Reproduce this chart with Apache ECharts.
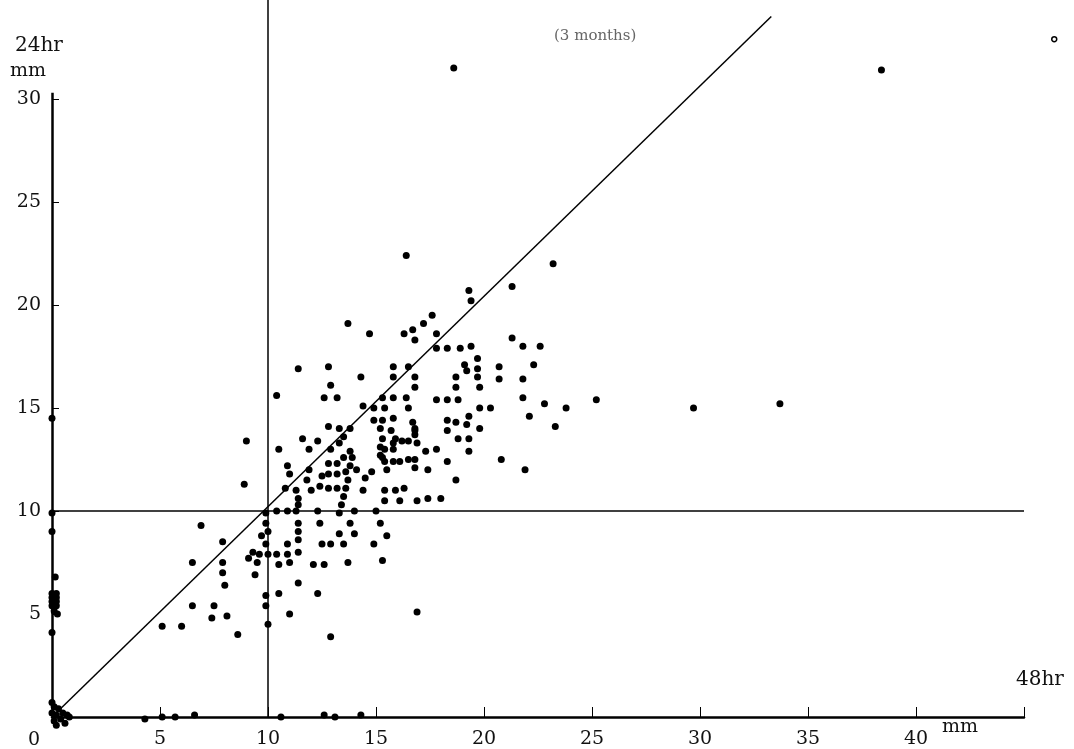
<!DOCTYPE html>
<html>
<head>
<meta charset="utf-8">
<script src="https://cdn.jsdelivr.net/npm/echarts@6/dist/echarts.min.js"></script>
<style>
  html, body { margin: 0; padding: 0; background: #fff; }
  #chart { width: 1074px; height: 749px; }
</style>
</head>
<body>
<div id="chart"></div>
<script>
// 48hr value (x) vs 24hr value (y), mm
var xTicks = [5, 10, 15, 20, 25, 30, 35, 40, 45];
var xLabels = [5, 10, 15, 20, 25, 30, 35, 40];
var yTicks = [5, 10, 15, 20, 25, 30];

// points sitting on / near the two axes
var originPoints = [
  [0, 0.7], [0.1, 0.5], [0.3, 0.4], [0, 0.2], [0.2, 0.1], [0.5, 0.2], [0.7, 0.1],
  [0.1, -0.2], [0.4, -0.1], [0.6, -0.3], [0.2, -0.4], [0.8, 0]
];
var yAxisPoints = [
  [0, 14.5], [0, 9.9], [0, 9.0], [0.15, 6.8], [0, 6.0], [0.2, 6.0], [0, 5.8], [0.2, 5.8],
  [0, 5.6], [0.2, 5.6], [0, 5.4], [0.2, 5.4], [0.1, 5.15], [0.25, 5.0], [0, 4.1]
];
var xAxisPoints = [
  [4.3, -0.1], [5.1, 0], [5.7, 0], [6.6, 0.1], [10.6, 0], [12.6, 0.1], [13.1, 0], [14.3, 0.1]
];

// main cloud
var lowPoints = [
  [9.0, 13.4], [10.5, 13.0], [11.9, 13.0], [12.9, 13.0], [10.9, 12.2], [13.5, 12.6], [11.0, 11.8],
  [8.9, 11.3], [11.9, 12.0], [12.8, 12.3], [13.2, 12.3], [12.5, 11.7], [12.8, 11.8], [13.2, 11.8],
  [13.6, 11.9], [11.8, 11.5], [12.4, 11.2], [10.8, 11.1], [11.3, 11.0], [12.0, 11.0], [12.8, 11.1],
  [13.2, 11.1], [13.6, 11.1], [13.7, 11.5], [11.4, 10.6], [13.5, 10.7], [13.4, 10.3], [10.4, 10.0],
  [10.9, 10.0], [11.3, 10.0], [11.4, 10.3], [12.3, 10.0], [13.3, 9.9], [9.9, 9.9], [6.9, 9.3],
  [9.9, 9.4], [11.4, 9.4], [12.4, 9.4], [13.8, 9.4], [9.7, 8.8], [10.0, 9.0], [11.4, 9.0],
  [13.3, 8.9], [7.9, 8.5], [9.9, 8.4], [10.9, 8.4], [11.4, 8.6], [12.5, 8.4], [12.9, 8.4],
  [13.5, 8.4], [9.3, 8.0], [9.6, 7.9], [10.0, 7.9], [10.4, 7.9], [10.9, 7.9], [11.4, 8.0],
  [9.1, 7.7], [9.5, 7.5], [10.5, 7.4], [11.0, 7.5], [12.1, 7.4], [12.6, 7.4], [13.7, 7.5],
  [6.5, 7.5], [7.9, 7.5], [7.9, 7.0], [9.4, 6.9], [8.0, 6.4], [11.4, 6.5], [9.9, 5.9],
  [10.5, 6.0], [12.3, 6.0], [6.5, 5.4], [7.5, 5.4], [9.9, 5.4], [7.4, 4.8], [8.1, 4.9],
  [11.0, 5.0], [10.0, 4.5], [5.1, 4.4], [6.0, 4.4], [8.6, 4.0], [12.9, 3.9],
  [14.0, 8.9], [15.5, 8.8], [14.9, 8.4], [15.3, 7.6], [16.9, 5.1]
];
var midPoints = [
  [13.7, 19.1], [14.7, 18.6], [16.3, 18.6], [16.7, 18.8], [16.8, 18.3], [17.2, 19.1], [17.6, 19.5],
  [17.8, 18.6], [17.8, 17.9], [18.3, 17.9], [11.4, 16.9], [12.8, 17.0], [14.3, 16.5], [15.8, 17.0],
  [16.5, 17.0], [15.8, 16.5], [16.8, 16.5], [16.8, 16.0], [12.9, 16.1], [10.4, 15.6], [12.6, 15.5],
  [13.2, 15.5], [15.3, 15.5], [15.8, 15.5], [16.4, 15.5], [17.8, 15.4], [18.3, 15.4], [14.4, 15.1],
  [14.9, 15.0], [15.4, 15.0], [16.5, 15.0], [14.9, 14.4], [15.3, 14.4], [15.8, 14.5], [16.7, 14.3],
  [18.3, 14.4], [12.8, 14.1], [13.3, 14.0], [13.8, 14.0], [15.2, 14.0], [15.7, 13.9], [16.8, 14.0],
  [16.8, 13.9], [18.3, 13.9], [11.6, 13.5], [12.3, 13.4], [13.3, 13.3], [13.5, 13.6], [15.3, 13.5],
  [15.9, 13.5], [15.8, 13.3], [16.2, 13.4], [16.5, 13.4], [16.8, 13.7], [16.9, 13.3], [13.8, 12.9],
  [15.2, 13.1], [15.4, 13.0], [15.8, 13.0], [17.3, 12.9], [17.8, 13.0], [13.9, 12.6], [15.2, 12.7],
  [15.3, 12.6], [15.4, 12.4], [15.8, 12.4], [16.1, 12.4], [16.5, 12.5], [16.8, 12.5], [18.3, 12.4],
  [13.8, 12.2], [14.1, 12.0], [14.8, 11.9], [15.5, 12.0], [16.8, 12.1], [17.4, 12.0], [14.5, 11.6],
  [14.4, 11.0], [15.4, 11.0], [15.9, 11.0], [16.3, 11.1], [15.4, 10.5], [16.1, 10.5], [16.9, 10.5],
  [17.4, 10.6], [18.0, 10.6], [14.0, 10.0], [15.0, 10.0], [15.2, 9.4]
];
var highPoints = [
  [16.4, 22.4], [23.2, 22.0], [21.3, 20.9], [19.3, 20.7], [19.4, 20.2], [21.3, 18.4], [21.8, 18.0],
  [22.6, 18.0], [18.9, 17.9], [19.4, 18.0], [19.7, 17.4], [19.1, 17.1], [19.2, 16.8], [19.7, 16.9],
  [20.7, 17.0], [22.3, 17.1], [20.7, 16.4], [21.8, 16.4], [18.7, 16.5], [19.7, 16.5], [18.7, 16.0],
  [19.8, 16.0], [18.8, 15.4], [21.8, 15.5], [22.8, 15.2], [23.8, 15.0], [25.2, 15.4], [19.8, 15.0],
  [20.3, 15.0], [18.7, 14.3], [19.3, 14.6], [19.2, 14.2], [19.8, 14.0], [22.1, 14.6], [23.3, 14.1],
  [18.8, 13.5], [19.3, 13.5], [19.3, 12.9], [20.8, 12.5], [21.9, 12.0], [18.7, 11.5]
];
var outliers = [[29.7, 15.0], [33.7, 15.2], [18.6, 31.5], [38.4, 31.4]];
var openPoints = [[46.4, 32.9]];

// guide lines: 10 mm cross and the 1:1 line
var vLine10 = [[10, 0], [10, 34.8]];
var hLine10 = [[0, 10], [45, 10]];
var diagLine = [[0, 0], [33.3, 34]];
var yAxisLine = [[0, 0], [0, 30.3]];

var serif = '"DejaVu Serif", "Liberation Serif", serif';

function seg(pair, width) {
  return [
    { coord: pair[0], lineStyle: { width: width, color: '#000', type: 'solid' } },
    { coord: pair[1] }
  ];
}

var chart = echarts.init(document.getElementById('chart'));

chart.setOption({
  backgroundColor: '#fff',
  animation: false,
  grid: { left: 52, right: 50, top: 0, bottom: 29 },
  xAxis: {
    type: 'value',
    min: 0,
    max: 45,
    interval: 5,
    axisLine: { show: true, onZero: false, lineStyle: { color: '#000', width: 2.5 } },
    axisTick: { inside: true, length: 10, customValues: xTicks, lineStyle: { color: '#000', width: 1 } },
    axisLabel: { customValues: xLabels, margin: 13, fontSize: 19, color: '#111', fontFamily: serif },
    splitLine: { show: false }
  },
  yAxis: {
    type: 'value',
    min: 0,
    max: 34.8,
    interval: 5,
    axisLine: { show: false },
    axisTick: { inside: true, length: 7, customValues: yTicks, lineStyle: { color: '#000', width: 1 } },
    axisLabel: { customValues: yTicks, margin: 11, fontSize: 19, color: '#111', fontFamily: serif },
    splitLine: { show: false }
  },
  graphic: [
    { type: 'text', left: 15, top: 36, style: { text: '24hr', font: '20px ' + serif, fill: '#111' } },
    { type: 'text', left: 10, top: 62, style: { text: 'mm', font: '19px ' + serif, fill: '#111' } },
    { type: 'text', left: 554, top: 29, style: { text: '(3 months)', font: '15px ' + serif, fill: '#666' } },
    { type: 'text', left: 1016, top: 670, style: { text: '48hr', font: '20px ' + serif, fill: '#111' } },
    { type: 'text', left: 942, top: 718, style: { text: 'mm', font: '19px ' + serif, fill: '#111' } },
    { type: 'text', left: 28, top: 731, style: { text: '0', font: '19px ' + serif, fill: '#111' } }
  ],
  series: [
    {
      type: 'scatter',
      clip: false,
      symbolSize: 7,
      itemStyle: { color: '#000', opacity: 1 },
      data: originPoints.concat(yAxisPoints, xAxisPoints, lowPoints, midPoints, highPoints, outliers),
      markLine: {
        silent: true,
        symbol: 'none',
        label: { show: false },
        data: [
          seg(vLine10, 1.5),
          seg(hLine10, 1.5),
          seg(diagLine, 1.5),
          seg(yAxisLine, 2.5)
        ]
      }
    },
    {
      type: 'scatter',
      clip: false,
      symbolSize: 5,
      itemStyle: { color: '#fff', borderColor: '#000', borderWidth: 1.5, opacity: 1 },
      data: openPoints
    }
  ]
});
</script>
</body>
</html>
